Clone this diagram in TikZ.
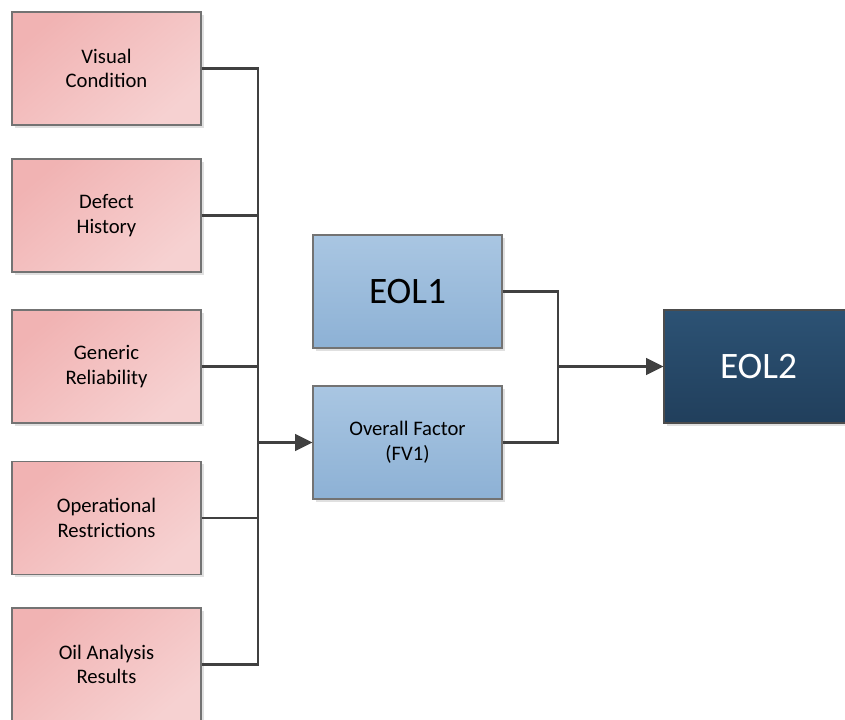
\documentclass[tikz,border=0pt]{standalone}
\usepackage{fontspec}
\setmainfont{Carlito}
\usetikzlibrary{arrows.meta,shadows}
\definecolor{pinkA}{HTML}{F1B3B3}
\definecolor{pinkB}{HTML}{F6D1D1}
\definecolor{blueA}{HTML}{A9C6E2}
\definecolor{blueB}{HTML}{8DB1D5}
\definecolor{navyA}{HTML}{2C5274}
\definecolor{navyB}{HTML}{213F5C}
\definecolor{lineC}{HTML}{404040}
\tikzset{
  box/.style={draw=black!55, line width=0.8pt, minimum width=141.75pt, minimum height=84.75pt,
    align=center, inner sep=0pt,
    drop shadow={shadow xshift=2.2pt, shadow yshift=-2.2pt, fill=black!12, opacity=1}},
  pinkbox/.style={box, top color=pinkA, bottom color=pinkB, shading angle=40,
    font=\fontsize{15.5pt}{18.5pt}\selectfont},
  bluebox/.style={box, top color=blueA, bottom color=blueB},
  navybox/.style={box, draw=black!70, top color=navyA, bottom color=navyB, text=white,
    font=\fontsize{28pt}{32pt}\selectfont},
  conn/.style={draw=lineC, line width=1.6pt},
  arr/.style={conn, -{Triangle[length=13pt,width=12.5pt]}}
}
\begin{document}
\begin{tikzpicture}[x=0.75pt,y=-0.75pt]
\clip (0,0) rectangle (845,720);
\fill[white] (0,0) rectangle (845,720);
\node[pinkbox] (vc) at (106.5,68.5) {Visual\\Condition};
\node[pinkbox] (dh) at (106.5,215.5) {Defect\\History};
\node[pinkbox] (gr) at (106.5,366.5) {Generic\\Reliability};
\node[pinkbox] (or) at (106.5,518) {Operational\\Restrictions};
\node[pinkbox] (oa) at (106.5,664.5) {Oil Analysis\\Results};
\node[bluebox, font=\fontsize{28pt}{32pt}\selectfont] (e1) at (407.5,291.5) {EOL1};
\node[bluebox, font=\fontsize{15.5pt}{18.5pt}\selectfont] (fv) at (407.5,442.5) {Overall Factor\\(FV1)};
\node[navybox] (e2) at (758.5,366.5) {EOL2};
\coordinate (j) at (258,442.5);
\coordinate (k) at (558,366.5);
\foreach \n in {vc,dh,gr,or,oa} \draw[conn] (\n.east) -| (j);
\draw[arr] (j) -- (fv.west);
\draw[conn] (e1.east) -| (k);
\draw[conn] (fv.east) -| (k);
\draw[arr] (k) -- (e2.west);
\end{tikzpicture}
\end{document}
